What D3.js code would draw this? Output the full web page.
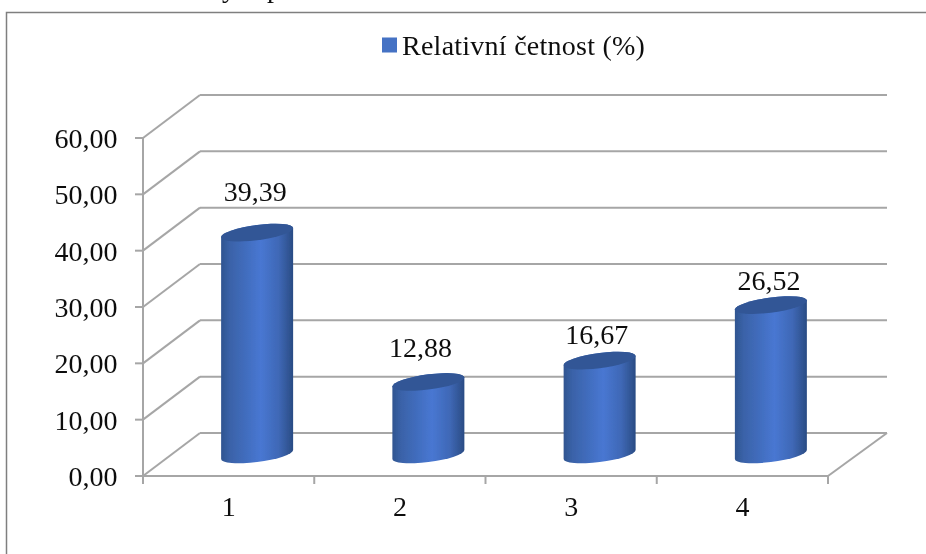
<!DOCTYPE html>
<html><head><meta charset="utf-8">
<script src="https://cdn.jsdelivr.net/npm/d3@7/dist/d3.min.js"></script>
<style>html,body{margin:0;padding:0;background:#fff}svg{display:block}</style>
</head><body><div id="c"></div>
<script>
const categories = ["1","2","3","4"];
const values = [39.39,12.88,16.67,26.52];
const valueLabels = ["39,39","12,88","16,67","26,52"];
const yTicks = [0,10,20,30,40,50,60];
const seriesName = "Relativní četnost (%)";
const labelShiftX = [-2,-8,-3,-2];
const labelShiftY = [-32,-25,-17,-15];

const W=926,H=554, font='"Liberation Serif","Times New Roman",serif', fs=28;
const depthX=57, depthY=43;
const x=d3.scaleBand().domain(categories).range([143,828]);
const y=d3.scaleLinear().domain([0,60]).range([476,138]);
const svg=d3.select("#c").append("svg").attr("width",W).attr("height",H);
const defs=svg.append("defs");
defs.append("filter").attr("id","soft").attr("x","-2%").attr("y","-2%").attr("width","104%").attr("height","104%")
  .append("feGaussianBlur").attr("stdDeviation",0.5);
const g=defs.append("linearGradient").attr("id","cyl");
[[0,"#2f5590"],[0.12,"#3a62a8"],[0.55,"#4877d2"],[0.8,"#3f68b6"],[1,"#2a4c84"]].forEach(s=>g.append("stop").attr("offset",s[0]).attr("stop-color",s[1]));
const root=svg.append("g").attr("filter","url(#soft)");
root.append("rect").attr("x",6.5).attr("y",12.5).attr("width",W+20).attr("height",H+20).attr("fill","#fff").attr("stroke","#7f7f7f").attr("stroke-width",1.5);

// cropped caption above the frame
[["y",222],["p",267]].forEach(d=>root.append("text").attr("x",d[1]).attr("y",-3).attr("font-family",font).attr("font-size",fs).attr("fill","#111").text(d[0]));

const grid="#a6a6a6", sw=2;
const line=(x1,y1,x2,y2)=>root.append("line").attr("x1",x1).attr("y1",y1).attr("x2",x2).attr("y2",y2).attr("stroke",grid).attr("stroke-width",sw);
const [x0,x1]=x.range();
const label=(px,py,anchor,t)=>root.append("text").attr("x",px).attr("y",py).attr("text-anchor",anchor)
    .attr("font-family",font).attr("font-size",fs).attr("fill","#111").text(t);
yTicks.forEach(t=>{
  line(x0+depthX,y(t)-depthY,x1+depthX+2,y(t)-depthY);
  line(x0,y(t),x0+depthX,y(t)-depthY);
  line(x0-8,y(t),x0,y(t));
  label(x0-25.5,y(t)+10,"end",d3.format(".2f")(t).replace(".",","));
});
line(x0,y(60),x0,y(0)+8);
line(x0,y(0),x1,y(0));
line(x1,y(0),x1+depthX+2,y(0)-depthY);
x.domain().forEach(c=>line(x(c),y(0),x(c),y(0)+8));
line(x1,y(0),x1,y(0)+8);

const rx=36, tilt=4.5, ry=7.6;
categories.forEach((c,i)=>{
  const cx=x(c)+x.bandwidth()/2+depthX/2;
  const yb=y(0)-depthY/2, yt=y(values[i])-depthY/2;
  const skew=`matrix(1,${-tilt/rx},0,1,${cx},0)`;
  root.append("path").attr("fill","url(#cyl)").attr("transform",skew)
    .attr("d",`M${-rx},${yt}L${-rx},${yb}A${rx},${ry} 0 0 0 ${rx},${yb}L${rx},${yt}A${rx},${ry} 0 0 0 ${-rx},${yt}Z`);
  root.append("ellipse").attr("cx",0).attr("cy",yt).attr("rx",rx).attr("ry",ry)
    .attr("transform",skew).attr("fill","#325796");
  label(cx+labelShiftX[i],yt+labelShiftY[i],"middle",valueLabels[i]);
  label(x(c)+x.bandwidth()/2,y(0)+40,"middle",c);
});
root.append("rect").attr("x",382).attr("y",37.5).attr("width",15).attr("height",15).attr("fill","#4472c4");
root.append("text").attr("x",402).attr("y",55).attr("font-family",font).attr("font-size",fs).attr("letter-spacing",0.25).attr("fill","#111").text(seriesName);
</script></body></html>
